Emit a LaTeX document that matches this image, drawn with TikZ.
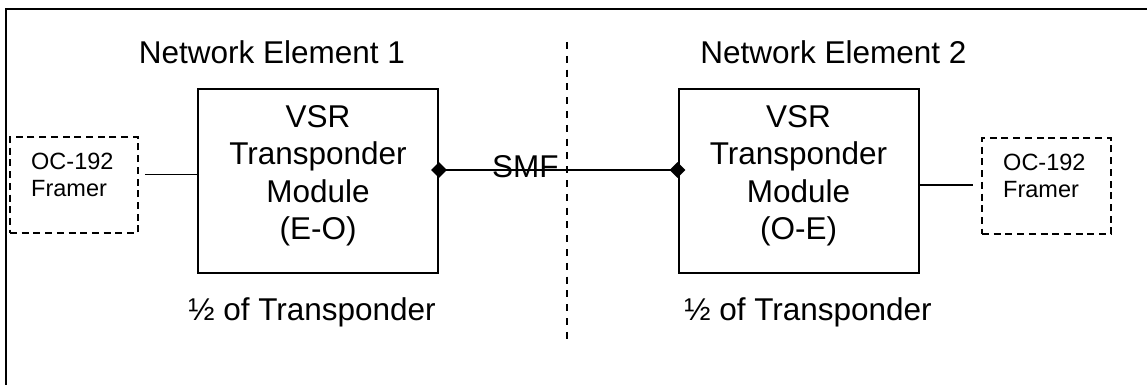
\documentclass[tikz,border=0pt]{standalone}
\usepackage{fontspec}
\setmainfont{Liberation Sans}
\usetikzlibrary{shapes.geometric}
\begin{document}
\begin{tikzpicture}[x=1pt,y=-1pt,
  frame/.style={line width=2.2pt},
  module/.style={draw,line width=2pt,rectangle,minimum width=240pt,minimum height=184pt,inner sep=0pt},
  framer/.style={draw,line width=1.8pt,dash pattern=on 7pt off 4.7pt,rectangle,minimum height=96pt,inner sep=0pt},
  big/.style={font=\fontsize{31.5}{37.5}\selectfont,inner sep=0pt},
  small/.style={font=\fontsize{23.5}{27}\selectfont,inner sep=0pt,align=left,anchor=north west},
  modtext/.style={big,align=center,anchor=north},
  conn/.style={line width=1.6pt},
  sep/.style={line width=1.8pt,dash pattern=on 7pt off 6.8pt},
  joint/.style={diamond,fill=black,draw=none,minimum width=16pt,minimum height=16pt,inner sep=0pt}]
\useasboundingbox (0,0) rectangle (1147,385);
% outer frame (only top and left edges fall inside the picture)
\draw[frame] (1152,9) -- (6,9) -- (6,392);
% headings
\node[big,anchor=base] (ne1) at (272,64) {Network Element 1};
\node[big,anchor=base] (ne2) at (833.5,64) {Network Element 2};
% modules
\node[module] (m1) at (318,181) {};
\node[module] (m2) at (798.5,181) {};
\node[modtext] (t1) at (318,105) {VSR\\Transponder\\Module\\(E-O)};
\node[modtext] (t2) at (798.5,105) {VSR\\Transponder\\Module\\(O-E)};
% framers
\node[framer,minimum width=128pt] (fr1) at (74,185) {};
\node[framer,minimum width=129pt] (fr2) at (1046.5,186) {};
\node[small] (f1t) at (31,152.8) {OC-192\\Framer};
\node[small] (f2t) at (1003,153.8) {OC-192\\Framer};
% halves
\node[big,anchor=base] (h1) at (312,320) {½ of Transponder};
\node[big,anchor=base] (h2) at (808,320) {½ of Transponder};
% separator
\coordinate (v1) at (567,42);
\coordinate (v2) at (567,342);
\draw[sep] (v1) -- (v2);
% joints and fibre
\node[joint] (d1) at ([yshift=11pt]m1.east) {};
\node[joint] (d2) at ([yshift=11pt]m2.west) {};
\draw[conn] (d1.center) -- (d2.center);
\node[big,anchor=base west] (smf) at (492,177) {SMF};
% electrical links
\coordinate (c1) at ([yshift=10.5pt]fr1.east);
\draw[conn] ([xshift=6pt]c1) -- (c1 -| m1.west);
\coordinate (c2) at ([yshift=1pt]fr2.west);
\draw[conn] (c2 -| m2.east) -- ([xshift=-8pt]c2);
\end{tikzpicture}
\end{document}
